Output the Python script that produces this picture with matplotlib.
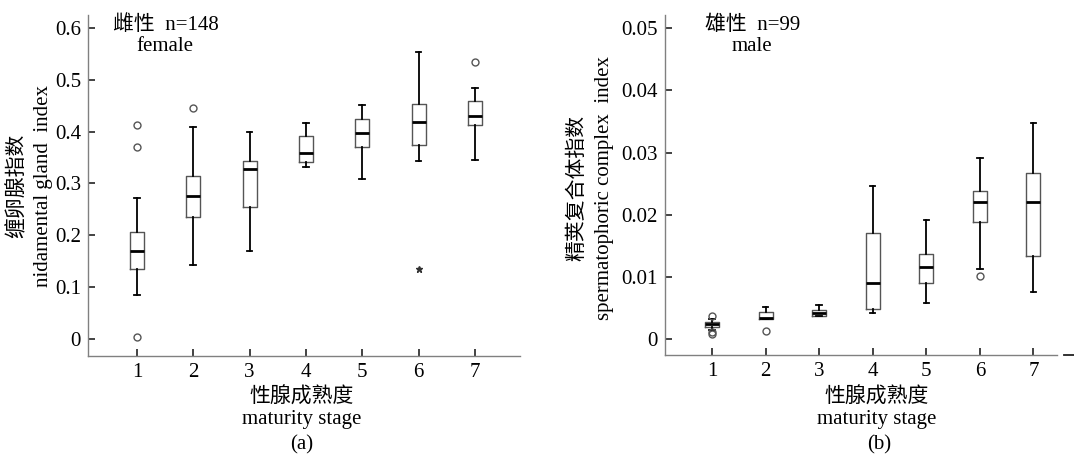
import matplotlib
matplotlib.use("Agg")
import matplotlib.pyplot as plt

plt.rcParams['font.family'] = ['Liberation Serif', 'Noto Sans CJK SC']

stages = [1, 2, 3, 4, 5, 6, 7]

# female: nidamental gland index
f_whislo = [0.084, 0.142, 0.169, 0.331, 0.309, 0.343, 0.346]
f_q1 = [0.135, 0.236, 0.254, 0.341, 0.371, 0.375, 0.413]
f_med = [0.170, 0.276, 0.328, 0.359, 0.398, 0.418, 0.431]
f_q3 = [0.206, 0.314, 0.344, 0.391, 0.424, 0.454, 0.459]
f_whishi = [0.272, 0.409, 0.399, 0.417, 0.452, 0.553, 0.485]
f_fliers = [[0.413, 0.371, 0.003], [0.445], [], [], [], [], [0.534]]
f_extreme_x = [6]
f_extreme_y = [0.135]

# male: spermatophoric complex index
m_whislo = [0.00155, 0.00326, 0.0038, 0.0042, 0.0058, 0.0113, 0.0076]
m_q1 = [0.00205, 0.00326, 0.0038, 0.0048, 0.0091, 0.0188, 0.0134]
m_med = [0.0024, 0.00337, 0.0042, 0.0091, 0.0117, 0.0220, 0.0221]
m_q3 = [0.0028, 0.00444, 0.0047, 0.0171, 0.0137, 0.0239, 0.0267]
m_whishi = [0.0033, 0.00524, 0.0055, 0.0246, 0.0191, 0.0291, 0.0348]
m_fliers = [[0.0038, 0.0012, 0.0008], [0.0014], [], [], [], [0.0101], []]

f_yticks = [0, 0.1, 0.2, 0.3, 0.4, 0.5, 0.6]
f_yticklabels = ['0', '0.1', '0.2', '0.3', '0.4', '0.5', '0.6']
m_yticks = [0, 0.01, 0.02, 0.03, 0.04, 0.05]
m_yticklabels = ['0', '0.01', '0.02', '0.03', '0.04', '0.05']


def make_stats(lo, q1, med, q3, hi, fl):
    out = []
    for i in range(len(lo)):
        out.append(dict(whislo=lo[i], q1=q1[i], med=med[i], q3=q3[i],
                        whishi=hi[i], fliers=fl[i]))
    return out


box_kw = dict(
    boxprops=dict(color='#555555', linewidth=1.0),
    medianprops=dict(color='black', linewidth=2.0),
    whiskerprops=dict(color='black', linewidth=1.3),
    capprops=dict(color='black', linewidth=1.3),
    flierprops=dict(marker='o', markerfacecolor='none', markeredgecolor='#555555',
                    markersize=5, markeredgewidth=1.0),
)

fig = plt.figure(figsize=(10.74, 4.55), dpi=100)
ax1 = fig.add_axes([0.0819, 0.2176, 0.4023, 0.7495])
ax2 = fig.add_axes([0.6192, 0.2198, 0.3650, 0.7470])

ax1.bxp(make_stats(f_whislo, f_q1, f_med, f_q3, f_whishi, f_fliers),
        positions=stages, widths=0.25, capwidths=0.1, **box_kw)
ax1.plot(f_extreme_x, f_extreme_y, linestyle='none', marker='*', color='#333333',
         markersize=5)
ax2.bxp(make_stats(m_whislo, m_q1, m_med, m_q3, m_whishi, m_fliers),
        positions=stages, widths=0.26, capwidths=0.1, **box_kw)

ax1.set_xlim(0.13, 7.8)
ax1.set_ylim(-0.0328, 0.625)
ax2.set_xlim(0.123, 7.44)
ax2.set_ylim(-0.00252, 0.0521)

fs = 15
for ax, yt, ytl in [(ax1, f_yticks, f_yticklabels), (ax2, m_yticks, m_yticklabels)]:
    ax.set_yticks(yt)
    ax.set_yticklabels(ytl)
    ax.set_xticks(stages)
    ax.set_xticklabels([str(s) for s in stages])
    for s in ['top', 'right']:
        ax.spines[s].set_visible(False)
    for s in ['left', 'bottom']:
        ax.spines[s].set_color('#808080')
        ax.spines[s].set_linewidth(1.0)
    ax.tick_params(direction='in', length=5, width=1.2, color='#222222',
                   labelsize=fs, pad=5)

# small dash at the end of the right x axis
ax2.plot([1.017, 1.045], [0.0, 0.0], transform=ax2.transAxes, color='#222222',
         linewidth=1.3, clip_on=False)

fig.text(0.1546, 0.945, '雌性  n=148', ha='center', va='center', fontsize=fs)
fig.text(0.1536, 0.897, 'female', ha='center', va='center', fontsize=fs)
fig.text(0.7007, 0.945, '雄性  n=99', ha='center', va='center', fontsize=fs)
fig.text(0.7000, 0.897, 'male', ha='center', va='center', fontsize=fs)

fig.text(17 / 1074, 0.591, '缠卵腺指数', rotation=90, ha='center', va='center', fontsize=fs)
fig.text(44 / 1074, 0.591, 'nidamental gland  index', rotation=90, ha='center',
         va='center', fontsize=fs)
fig.text(578 / 1074, 0.587, '精荚复合体指数', rotation=90, ha='center', va='center',
         fontsize=fs)
fig.text(605 / 1074, 0.587, 'spermatophoric complex  index', rotation=90, ha='center',
         va='center', fontsize=fs)

fig.text(0.281, 0.127, '性腺成熟度', ha='center', va='center', fontsize=fs)
fig.text(0.281, 0.077, 'maturity stage', ha='center', va='center', fontsize=fs)
fig.text(0.281, 0.022, '(a)', ha='center', va='center', fontsize=fs)
fig.text(0.8166, 0.127, '性腺成熟度', ha='center', va='center', fontsize=fs)
fig.text(0.8166, 0.077, 'maturity stage', ha='center', va='center', fontsize=fs)
fig.text(0.819, 0.022, '(b)', ha='center', va='center', fontsize=fs)

fig.savefig('out.png', dpi=100)
